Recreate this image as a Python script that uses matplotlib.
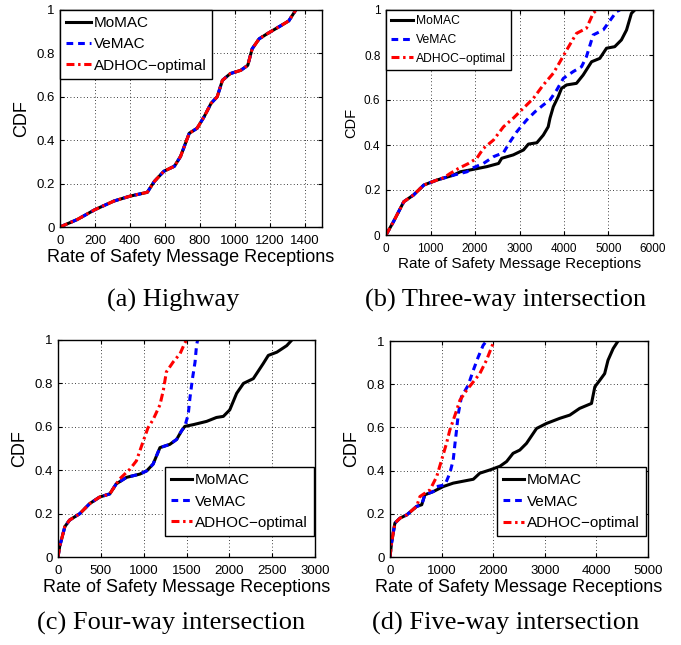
import matplotlib.pyplot as plt

plt.rcParams['font.family'] = ['Liberation Sans', 'DejaVu Sans']

series_names = ['MoMAC', 'VeMAC', 'ADHOC\u2212optimal']
captions = ['(a) Highway', '(b) Three-way intersection',
            '(c) Four-way intersection', '(d) Five-way intersection']

# (a) highway: all three schemes give the same curve
hw_x = [0, 100, 200, 310, 400, 500, 540, 595, 655, 690, 740, 785, 825, 865,
        900, 930, 975, 1035, 1075, 1100, 1140, 1185, 1265, 1310, 1350]
hw_cdf = [0, 0.035, 0.08, 0.12, 0.142, 0.16, 0.21, 0.257, 0.28, 0.325, 0.432,
          0.455, 0.508, 0.57, 0.6, 0.676, 0.707, 0.722, 0.745, 0.821, 0.867,
          0.89, 0.928, 0.95, 1.0]

# (b) three-way intersection
tw_momac_x = [0, 170, 400, 620, 850, 1140, 1500, 1670, 1970, 2270, 2530, 2600,
              2860, 3090, 3200, 3390, 3535, 3645, 3685, 3760, 3870, 3945, 4060,
              4280, 4430, 4620, 4805, 4955, 5140, 5290, 5405, 5515, 5590]
tw_momac_cdf = [0, 0.06, 0.148, 0.178, 0.222, 0.244, 0.265, 0.281, 0.292, 0.304,
                0.318, 0.341, 0.356, 0.378, 0.404, 0.41, 0.444, 0.481, 0.519,
                0.57, 0.615, 0.652, 0.667, 0.674, 0.711, 0.77, 0.785, 0.83,
                0.837, 0.867, 0.911, 0.985, 1.0]
tw_vemac_x = [0, 170, 400, 620, 850, 1140, 1500, 1820, 1970, 2190, 2415, 2640,
              2790, 2940, 3160, 3350, 3535, 3685, 3835, 3985, 4205, 4395, 4505,
              4655, 4880, 4990, 5180, 5255]
tw_vemac_cdf = [0, 0.06, 0.148, 0.178, 0.222, 0.244, 0.265, 0.281, 0.3, 0.318,
                0.348, 0.366, 0.415, 0.459, 0.511, 0.548, 0.578, 0.6, 0.644,
                0.696, 0.726, 0.748, 0.793, 0.889, 0.911, 0.941, 0.993, 1.0]
tw_adhoc_x = [0, 170, 400, 620, 850, 1140, 1300, 1445, 1630, 1855, 2040, 2190,
              2415, 2640, 2860, 3085, 3310, 3535, 3760, 3910, 4060, 4280, 4505,
              4655, 4730]
tw_adhoc_cdf = [0, 0.06, 0.148, 0.178, 0.222, 0.244, 0.255, 0.274, 0.296, 0.318,
                0.341, 0.385, 0.422, 0.481, 0.519, 0.563, 0.607, 0.667, 0.719,
                0.77, 0.822, 0.896, 0.919, 0.985, 1.0]

# (c) four-way intersection
fw_momac_x = [0, 20, 80, 135, 255, 370, 485, 605, 680, 800, 955, 1035, 1110,
              1190, 1305, 1385, 1440, 1480, 1580, 1735, 1850, 1930, 2005, 2085,
              2165, 2280, 2395, 2455, 2555, 2670, 2730]
fw_momac_cdf = [0, 0.049, 0.14, 0.17, 0.2, 0.246, 0.276, 0.291, 0.337, 0.367,
                0.382, 0.397, 0.428, 0.504, 0.519, 0.542, 0.58, 0.602, 0.61,
                0.625, 0.643, 0.648, 0.678, 0.754, 0.8, 0.822, 0.891, 0.929,
                0.944, 0.974, 1.0]
fw_vemac_x = [0, 20, 80, 135, 255, 370, 485, 605, 680, 800, 955, 1035, 1110,
              1190, 1305, 1385, 1440, 1480, 1520, 1540, 1570, 1600, 1617, 1630]
fw_vemac_cdf = [0, 0.049, 0.14, 0.17, 0.2, 0.246, 0.276, 0.291, 0.337, 0.367,
                0.382, 0.397, 0.428, 0.504, 0.519, 0.542, 0.58, 0.602, 0.656,
                0.732, 0.823, 0.899, 0.975, 1.0]
fw_adhoc_x = [0, 20, 80, 135, 255, 370, 485, 605, 680, 720, 840, 915, 995,
              1050, 1110, 1190, 1230, 1265, 1345, 1425, 1480, 1500]
fw_adhoc_cdf = [0, 0.049, 0.14, 0.17, 0.2, 0.246, 0.276, 0.291, 0.337, 0.36,
                0.405, 0.443, 0.534, 0.595, 0.633, 0.701, 0.769, 0.853, 0.899,
                0.937, 0.986, 1.0]

# (d) five-way intersection
vw_momac_x = [0, 30, 95, 195, 325, 515, 615, 675, 840, 1030, 1225, 1485, 1615,
              1740, 1935, 2130, 2260, 2385, 2515, 2645, 2840, 3030, 3290, 3485,
              3675, 3905, 3970, 4065, 4160, 4225, 4325, 4420]
vw_momac_cdf = [0, 0.065, 0.157, 0.18, 0.195, 0.234, 0.242, 0.288, 0.303, 0.326,
                0.342, 0.354, 0.36, 0.388, 0.403, 0.42, 0.442, 0.48, 0.495,
                0.526, 0.595, 0.618, 0.642, 0.657, 0.688, 0.711, 0.788, 0.818,
                0.849, 0.911, 0.965, 1.0]
vw_vemac_x = [0, 30, 95, 195, 325, 515, 615, 675, 840, 905, 1065, 1160, 1225,
              1260, 1290, 1325, 1385, 1515, 1615, 1710, 1805, 1870]
vw_vemac_cdf = [0, 0.065, 0.157, 0.18, 0.195, 0.234, 0.242, 0.288, 0.303, 0.326,
                0.334, 0.388, 0.449, 0.526, 0.588, 0.665, 0.742, 0.795, 0.865,
                0.926, 0.98, 1.0]
vw_adhoc_x = [0, 30, 95, 195, 325, 515, 580, 775, 905, 1000, 1095, 1160, 1260,
              1355, 1485, 1615, 1740, 1870, 1970, 2015]
vw_adhoc_cdf = [0, 0.065, 0.157, 0.18, 0.195, 0.234, 0.28, 0.311, 0.372, 0.449,
                0.526, 0.588, 0.657, 0.726, 0.772, 0.811, 0.849, 0.911, 0.972,
                1.0]

panels = [
    dict(curves=[(hw_x, hw_cdf), (hw_x, hw_cdf), (hw_x, hw_cdf)],
         rect=[60, 10, 262, 217], xmax=1500, xticks=range(0, 1401, 200),
         tick_fs=9.5, label_fs=13, leg=dict(fontsize=11, loc='upper left',
         bbox_to_anchor=(0, 1), handlelength=1.6, labelspacing=0.48,
         borderpad=0.4), cap_xy=(173, 300)),
    dict(curves=[(tw_momac_x, tw_momac_cdf), (tw_vemac_x, tw_vemac_cdf),
                 (tw_adhoc_x, tw_adhoc_cdf)],
         rect=[386, 10, 267, 225], xmax=6000, xticks=range(0, 6001, 1000),
         tick_fs=8.5, label_fs=11, ylabel_fs=10.5, leg=dict(fontsize=8.7,
         loc='upper left', bbox_to_anchor=(0, 1), handlelength=1.8,
         labelspacing=0.55, borderpad=0.45), cap_xy=(506, 300)),
    dict(curves=[(fw_momac_x, fw_momac_cdf), (fw_vemac_x, fw_vemac_cdf),
                 (fw_adhoc_x, fw_adhoc_cdf)],
         rect=[58, 340, 257, 217], xmax=3000, xticks=range(0, 3001, 500),
         tick_fs=9.5, label_fs=13, leg=dict(fontsize=11, loc='lower right',
         bbox_to_anchor=(0.996, 0.097), handlelength=1.4, labelspacing=0.48,
         borderpad=0.4), cap_xy=(171, 623)),
    dict(curves=[(vw_momac_x, vw_momac_cdf), (vw_vemac_x, vw_vemac_cdf),
                 (vw_adhoc_x, vw_adhoc_cdf)],
         rect=[390, 341, 258, 216], xmax=5000, xticks=range(0, 5001, 1000),
         tick_fs=9.5, label_fs=13, leg=dict(fontsize=11, loc='lower right',
         bbox_to_anchor=(0.992, 0.097), handlelength=1.4, labelspacing=0.48,
         borderpad=0.4), cap_xy=(506, 623)),
]

styles = [dict(color='black', linestyle='-', lw=2.2),
          dict(color='blue', linestyle=(0, (2.2, 1.6)), lw=2.2),
          dict(color='red', linestyle=(0, (2.6, 1.2, 0.8, 1.2)), lw=2.2)]

W, H = 681, 645
fig = plt.figure(figsize=(W / 100, H / 100), dpi=100)

for p, cap in zip(panels, captions):
    x0, y0, w, h = p['rect']
    ax = fig.add_axes([x0 / W, (H - y0 - h) / H, w / W, h / H])
    for (xs, ys), name, st in zip(p['curves'], series_names, styles):
        ax.plot(xs, ys, label=name, **st)
    ax.set_xlim(0, p['xmax'])
    ax.set_ylim(0, 1)
    ax.set_xticks(list(p['xticks']))
    ax.set_yticks([0, 0.2, 0.4, 0.6, 0.8, 1])
    ax.set_yticklabels(['0', '0.2', '0.4', '0.6', '0.8', '1'])
    ax.grid(True, color='black', linestyle=(0, (1, 3)), lw=0.6)
    ax.tick_params(direction='in', top=True, right=True, length=3,
                   labelsize=p['tick_fs'])
    ax.tick_params(axis='x', pad=5.5)
    ax.tick_params(axis='y', pad=4)
    for s in ax.spines.values():
        s.set_linewidth(1)
    ax.set_xlabel('Rate of Safety Message Receptions', fontsize=p['label_fs'],
                  labelpad=1.5)
    ax.set_ylabel('CDF', fontsize=p.get('ylabel_fs', p['label_fs']),
                  labelpad=4)
    leg = ax.legend(fancybox=False, framealpha=1, edgecolor='black',
                    borderaxespad=0, handletextpad=0.2, **p['leg'])
    leg.get_frame().set_linewidth(1)
    fig.text(p['cap_xy'][0] / W, 1 - p['cap_xy'][1] / H, cap,
             family='Liberation Serif', fontsize=19, ha='center', va='center')

fig.savefig('out.png', dpi=100)
